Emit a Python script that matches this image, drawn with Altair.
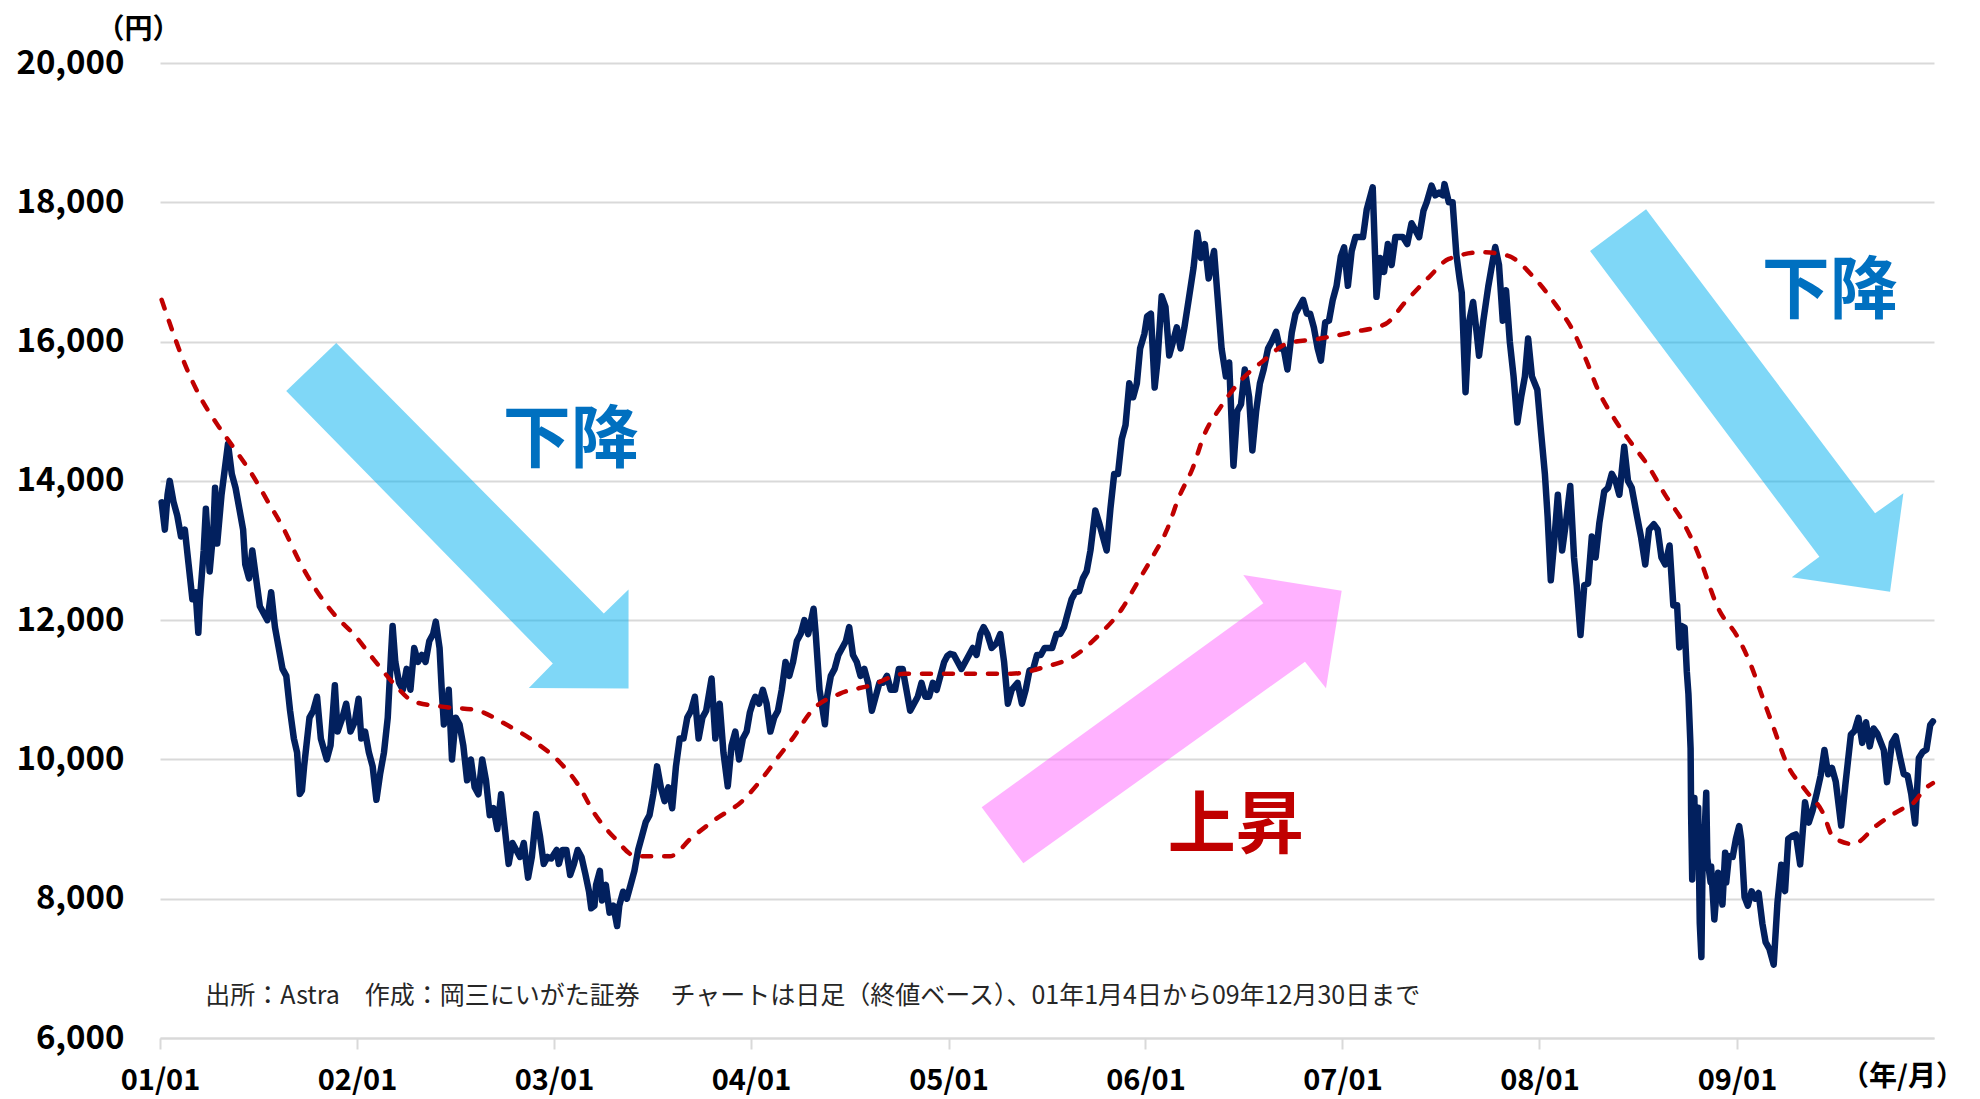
import altair as alt
import pandas as pd

# ---------------- data ----------------
# Daily-close line (sampled), one pair of lists per year: "MM-DD" and close (yen)
d2001 = ["01-04","01-10","01-15","01-19","01-26","02-02","02-09","02-16","02-23","03-02","03-08","03-13","03-16","03-23","03-27","04-03","04-10","04-13","04-17","04-25","05-07","05-14","05-21","05-28","06-04","06-08","06-15","06-21","06-28","07-05","07-12","07-19","07-26","08-02","08-09","08-16","08-23","08-30","09-06","09-12","09-17","09-21","09-25","10-05","10-12","10-19","10-26","11-06","11-13","11-21","11-26","12-05","12-12","12-20","12-28"]
c2001 = [13691,13300,13800,14000,13700,13500,13200,13300,12800,12300,12400,11819,12300,13000,13600,12700,13300,13900,13100,13800,14529,14100,13900,13600,13300,12800,12600,13000,12600,12200,12100,12000,12400,11900,11600,11300,11200,10700,10300,10100,9504,9554,9900,10600,10700,10900,10300,10000,10200,11064,10400,10600,10800,10400,10542]

d2002 = ["01-04","01-09","01-16","01-23","01-30","02-06","02-13","02-20","02-27","03-05","03-08","03-13","03-20","03-27","04-03","04-10","04-17","04-24","05-01","05-08","05-15","05-22","05-27","06-03","06-07","06-11","06-17","06-20","06-26","07-03","07-10","07-17","07-24","07-31","08-07","08-14","08-21","08-28","09-04","09-11","09-18","09-25","10-02","10-09","10-16","10-23","10-30","11-06","11-14","11-21","11-29","12-06","12-13","12-20","12-27"]
c2002 = [10871,10300,10400,10100,9900,9420,9800,10100,10600,11500,11917,11400,11100,11000,11300,11000,11600,11400,11500,11400,11700,11800,11979,11600,11000,10500,10700,11000,10000,10600,10500,10200,9700,10000,9600,9500,10000,9700,9200,9300,9000,9500,9000,8500,8800,8700,8600,8800,8303,8600,9215,8900,8500,8600,8579]

d2003 = ["01-06","01-10","01-17","01-24","01-31","02-07","02-14","02-21","02-28","03-07","03-11","03-17","03-20","03-27","03-31","04-07","04-14","04-21","04-28","05-02","05-09","05-16","05-23","05-30","06-06","06-13","06-20","06-27","07-04","07-11","07-18","07-25","08-01","08-08","08-15","08-22","08-29","09-05","09-12","09-19","09-26","10-03","10-10","10-20","10-27","11-04","11-11","11-19","11-26","12-03","12-10","12-17","12-24","12-30"]
c2003 = [8700,8500,8700,8700,8340,8500,8700,8600,8360,8100,7862,7900,8200,8400,7973,8200,7800,7900,7607,7900,8100,8000,8200,8400,8700,8900,9100,9200,9500,9900,9600,9400,9600,9300,9900,10300,10300,10600,10700,10900,10300,10600,10700,11161,10300,10800,10100,9614,10200,10400,10000,10300,10400,10676]

d2004 = ["01-05","01-09","01-16","01-23","01-30","02-06","02-13","02-20","02-27","03-05","03-12","03-19","03-26","04-02","04-09","04-16","04-26","04-30","05-07","05-17","05-21","05-28","06-04","06-11","06-18","06-25","07-01","07-08","07-15","07-22","07-29","08-05","08-12","08-19","08-26","09-02","09-09","09-16","09-24","10-01","10-08","10-15","10-22","10-29","11-05","11-12","11-19","11-26","12-03","12-10","12-17","12-24","12-30"]
c2004 = [10825,10900,10800,11000,10800,10400,10600,10700,11000,11400,11200,11400,11700,11800,12000,11800,12163,11800,11000,10505,10900,11200,11300,11500,11600,11700,11900,11500,11400,11200,11300,11100,10700,10900,11100,11100,11200,11000,11000,11300,11300,11000,10700,10800,10900,11100,10900,10900,11100,11000,11200,11400,11488]

d2005 = ["01-04","01-11","01-18","01-25","02-01","02-08","02-15","02-22","03-01","03-07","03-14","03-22","03-31","04-07","04-14","04-21","04-28","05-09","05-17","05-24","05-31","06-07","06-14","06-21","06-28","07-05","07-12","07-20","07-27","08-03","08-10","08-17","08-24","08-31","09-07","09-14","09-21","09-30","10-07","10-14","10-21","10-28","11-04","11-11","11-18","11-25","12-02","12-09","12-16","12-22","12-30"]
c2005 = [11517,11500,11400,11300,11400,11500,11600,11500,11800,11900,11800,11600,11668,11800,11400,10800,11000,11100,10800,11000,11276,11300,11500,11500,11600,11600,11600,11800,11800,11900,12100,12300,12400,12413,12600,12700,13000,13574,13400,13200,13000,13600,14100,14100,14600,14800,15400,15200,15400,15900,16111]

d2006 = ["01-04","01-11","01-18","01-23","01-31","02-07","02-14","02-21","02-28","03-07","03-14","03-22","03-31","04-07","04-14","04-21","04-28","05-08","05-15","05-22","05-30","06-05","06-13","06-20","06-27","07-04","07-12","07-18","07-25","08-01","08-08","08-16","08-23","08-31","09-07","09-14","09-21","09-29","10-06","10-13","10-20","10-27","11-02","11-09","11-16","11-22","11-30","12-07","12-14","12-21","12-29"]
c2006 = [16361,16400,15341,15700,16650,16500,15800,16000,16205,15900,16200,16600,17059,17563,17200,17400,16906,17300,16600,15900,15500,15700,14218,15000,15100,15600,15200,14437,15000,15400,15600,15900,16000,16140,15900,15900,15600,16128,16400,16500,16600,16400,16400,16200,15900,15725,16274,16300,16600,16800,17225]

d2007 = ["01-04","01-11","01-18","01-25","02-01","02-08","02-15","02-26","03-05","03-12","03-19","03-26","04-02","04-09","04-16","04-23","05-01","05-09","05-16","05-23","05-31","06-06","06-15","06-22","06-29","07-06","07-09","07-17","07-24","07-31","08-06","08-10","08-17","08-24","08-31","09-07","09-11","09-19","09-28","10-05","10-11","10-18","10-25","10-31","11-07","11-14","11-21","11-28","12-05","12-11","12-18","12-28"]
c2007 = [17353,16800,17300,17500,17500,17500,17900,18215,16642,17200,17000,17400,17100,17500,17500,17500,17400,17700,17600,17500,17876,18000,18240,18100,18138,18100,18261,18000,18000,17248,16900,16700,15273,16300,16569,16100,15797,16300,16785,17100,17358,17100,16300,16737,16000,15500,14837,15200,15500,16044,15500,15307]

d2008 = ["01-04","01-11","01-16","01-22","01-28","02-04","02-12","02-19","02-27","03-05","03-10","03-17","03-24","03-31","04-07","04-14","04-21","04-30","05-07","05-14","05-21","05-28","06-06","06-13","06-20","06-30","07-07","07-15","07-22","07-31","08-07","08-14","08-21","08-29","09-05","09-12","09-16","09-19","09-26","09-30","10-03","10-07","10-08","10-10","10-14","10-16","10-21","10-24","10-27","10-30","10-31","11-05","11-07","11-13","11-14","11-20","11-27","12-05","12-10","12-12","12-17","12-24","12-30"]
c2008 = [14691,14100,13500,12573,13100,13800,13000,13400,13926,12900,12500,11787,12500,12525,13200,12900,13400,13850,13900,14100,14000,13800,14489,14000,13900,13481,13200,12800,13300,13376,13300,12900,12800,13072,12212,12214,11609,11920,11893,11259,10938,10155,9203,8276,9447,8458,9306,7649,7162,9029,8576,9521,8583,8238,8462,7703,8373,7917,8660,8235,8612,8600,8859]

d2009 = ["01-05","01-09","01-15","01-21","01-28","02-04","02-10","02-17","02-23","03-02","03-10","03-17","03-24","03-31","04-06","04-13","04-20","04-28","05-07","05-14","05-21","05-29","06-05","06-12","06-19","06-26","07-03","07-13","07-21","07-31","08-07","08-14","08-21","08-28","09-04","09-11","09-18","09-30","10-06","10-15","10-22","10-30","11-06","11-13","11-20","11-27","12-04","12-11","12-18","12-25","12-30"]
c2009 = [9043,8836,8023,7901,8106,8000,8082,7645,7376,7280,7054,7949,8488,8109,8860,8900,8924,8493,9385,9093,9264,9522,9768,10135,9786,9877,9680,9050,9652,10356,10412,10597,10238,10534,10187,10444,10370,10133,9674,10238,10333,10034,9789,9770,9497,9081,10022,10107,10142,10494,10546]

# Dashed moving-average line
ma_dates = ["2001-01-04","2001-02-23","2001-03-15","2001-04-17","2001-05-20","2001-06-21","2001-07-20","2001-08-18","2001-09-16","2001-10-15","2001-11-21","2001-12-27",
            "2002-02-02","2002-03-10","2002-04-16","2002-06-17","2002-08-08","2002-10-08","2002-11-28",
            "2003-01-12","2003-02-14","2003-03-18","2003-04-23","2003-06-02","2003-08-04","2003-09-13","2003-10-27","2003-12-16",
            "2004-01-23","2004-02-20","2004-03-18","2004-04-23","2004-06-13","2004-08-10","2004-10-12","2004-12-17",
            "2005-02-17","2005-04-27","2005-06-28","2005-08-21","2005-10-09","2005-11-18","2005-12-17",
            "2006-01-15","2006-02-10","2006-03-04","2006-03-29","2006-04-20","2006-05-19","2006-06-25","2006-08-08","2006-09-21","2006-11-18",
            "2007-01-19","2007-03-22","2007-04-27","2007-06-10","2007-07-17","2007-09-17","2007-11-03","2007-12-24",
            "2008-01-30","2008-03-03","2008-03-28","2008-04-19","2008-05-18","2008-06-21","2008-07-20","2008-08-22","2008-09-20","2008-10-16","2008-11-29",
            "2009-01-01","2009-01-26","2009-02-17","2009-03-11","2009-04-02","2009-05-08","2009-06-10","2009-06-28","2009-08-04","2009-09-17","2009-11-03","2009-11-21","2009-12-17","2009-12-30"]
ma_values = [16600,15550,15225,14811,14450,14088,13700,13313,12848,12460,12072,11788,
             11426,11090,10832,10750,10710,10486,10245,
             9957,9644,9212,8875,8611,8611,8875,9139,9404,
             9740,10029,10300,10702,10942,11063,11231,11231,
             11231,11231,11327,11480,11804,12158,12540,
             12921,13302,13766,14174,14665,15046,15428,15728,15973,16040,
             16134,16254,16565,16923,17187,17282,17234,16900,
             16541,16158,15727,15297,14900,14523,14221,13785,13450,13047,12141,
             11772,11369,10899,10430,9960,9557,9221,8886,8785,9054,9289,9356,9591,9660]

# Annotation anchors (data coordinates)
arrow_names = ["down1", "up", "down2"]
arrow_dates = ["2002-07-06", "2006-01-31", "2009-01-19"]
arrow_values = [13500, 10578, 15154]

label_texts = ["下降", "上昇", "下降"]
label_dates = ["2003-02-01", "2006-06-17", "2009-06-22"]
label_values = [14560, 9010, 16700]

note_text = "出所：Astra\u3000作成：岡三にいがた証券\u3000  チャートは日足（終値ベース）、01年1月4日から09年12月30日まで"
note_date = "2001-03-26"
note_value = 6600

y_ticks = [6000, 8000, 10000, 12000, 14000, 16000, 18000, 20000]
x_tick_years = list(range(2001, 2010))

# ---------------- styles ----------------
FONT = "Noto Sans CJK JP"
NAVY = "#02205E"
RED = "#C00000"
BLUE_TXT = "#0070C0"
GRID = "#D9D9D9"
arrow_fill = {"down1": "#00B0F0", "up": "#FF66FF", "down2": "#00B0F0"}
label_colors = [BLUE_TXT, RED, BLUE_TXT]

# arrow outlines in pixel offsets from the arrow's anchor (shape only)
HALF = 200.0
arrow_outline = {
    "down1": [(-121.15, -172.8), (146.45, 97.8), (171.15, 73.8), (171.15, 172.8),
              (71.45, 172.2), (95.45, 147.8), (-171.15, -124.8)],
    "up": [(-138.4, 144.15), (-180.0, 88.15), (101.6, -115.85), (81.6, -144.15),
           (180.0, -128.45), (164.3, -30.85), (143.3, -57.45)],
    "down2": [(-100.65, -191.2), (128.35, 112.8), (156.65, 92.8), (143.35, 191.2),
              (45.05, 176.8), (72.65, 156.2), (-156.65, -149.5)],
}


def shape_path(pts):
    return "M" + " L".join(f"{x / HALF:.4f},{y / HALF:.4f}" for x, y in pts) + " Z"


# ---------------- tables ----------------
year_lists = {2001: (d2001, c2001), 2002: (d2002, c2002), 2003: (d2003, c2003),
              2004: (d2004, c2004), 2005: (d2005, c2005), 2006: (d2006, c2006),
              2007: (d2007, c2007), 2008: (d2008, c2008), 2009: (d2009, c2009)}
rows = []
for yr, (ds, cs) in year_lists.items():
    assert len(ds) == len(cs), (yr, len(ds), len(cs))
    for d, c in zip(ds, cs):
        rows.append({"date": f"{yr}-{d}", "value": c})
price_df = pd.DataFrame(rows)
assert len(ma_dates) == len(ma_values)
ma_df = pd.DataFrame({"date": ma_dates, "value": ma_values})
label_df = pd.DataFrame({"date": label_dates, "value": label_values,
                         "text": label_texts, "color": label_colors})
note_df = pd.DataFrame({"date": [note_date], "value": [note_value], "text": [note_text]})

# ---------------- encodings ----------------
x_enc = alt.X(
    "date:T",
    scale=alt.Scale(type="utc",
                    domain=[alt.DateTime(year=2001, month=1, date=1, utc=True),
                            alt.DateTime(year=2010, month=1, date=1, utc=True)]),
    axis=alt.Axis(
        values=[alt.DateTime(year=y, month=1, date=1, utc=True) for y in x_tick_years],
        labelExpr="utcFormat(datum.value, '%y/%m')",
        grid=False, domain=True, domainColor=GRID, domainWidth=2,
        ticks=True, tickColor=GRID, tickWidth=2, tickSize=11,
        labelPadding=17, labelFont=FONT, labelFontSize=29, labelFontWeight="bold",
        labelColor="#000000", labelFlush=False, labelOverlap=False,
        title="（年/月）", titleFont=FONT, titleFontSize=28, titleFontWeight="bold",
        titleColor="#000000", titleX=1742, titleY=39, titleAlign="center",
        titleBaseline="middle", titleAnchor="start",
    ),
)
y_enc = alt.Y(
    "value:Q",
    scale=alt.Scale(domain=[6000, 20000], nice=False, zero=False),
    axis=alt.Axis(
        values=y_ticks, format=",d", grid=True, gridColor=GRID, gridWidth=2,
        domain=False, ticks=False, tickSize=0, labelPadding=36,
        labelFont=FONT, labelFontSize=33, labelFontWeight="bold", labelColor="#000000",
        title="（円）", titleFont=FONT, titleFontSize=28, titleFontWeight="bold",
        titleColor="#000000", titleAngle=0, titleX=-22, titleY=-33,
        titleAlign="center", titleBaseline="middle", titleAnchor="start",
    ),
)

layers = []
for name, d, v in zip(arrow_names, arrow_dates, arrow_values):
    adf = pd.DataFrame({"date": [d], "value": [v]})
    layers.append(
        alt.Chart(adf).mark_point(
            shape=shape_path(arrow_outline[name]), size=(2 * HALF) ** 2,
            filled=True, color=arrow_fill[name], opacity=0.5, strokeWidth=0,
        ).encode(x=x_enc, y=y_enc)
    )

price = alt.Chart(price_df).mark_line(
    color=NAVY, strokeWidth=6.5, strokeJoin="round", strokeCap="round"
).encode(x=x_enc, y=y_enc)

ma = alt.Chart(ma_df).mark_line(
    color=RED, strokeWidth=4.5, strokeDash=[9, 13], strokeCap="round", interpolate="monotone"
).encode(x=x_enc, y=y_enc)

labels = alt.Chart(label_df).mark_text(
    font=FONT, fontSize=68, fontWeight="bold", align="center", baseline="middle"
).encode(x=x_enc, y=y_enc, text="text:N", color=alt.Color("color:N", scale=None))

note = alt.Chart(note_df).mark_text(
    font=FONT, fontSize=25, align="left", baseline="middle", color="#262626"
).encode(x=x_enc, y=y_enc, text="text:N")

chart = alt.layer(*layers, price, ma, labels, note).properties(
    width=1774, height=975,
    autosize=alt.AutoSizeParams(type="none"),
    padding={"left": 152, "top": 55, "right": 36, "bottom": 61},
    background="#FFFFFF",
).configure_view(strokeWidth=0)

chart.save("out.html", embed_options={"renderer": "svg", "actions": False})
